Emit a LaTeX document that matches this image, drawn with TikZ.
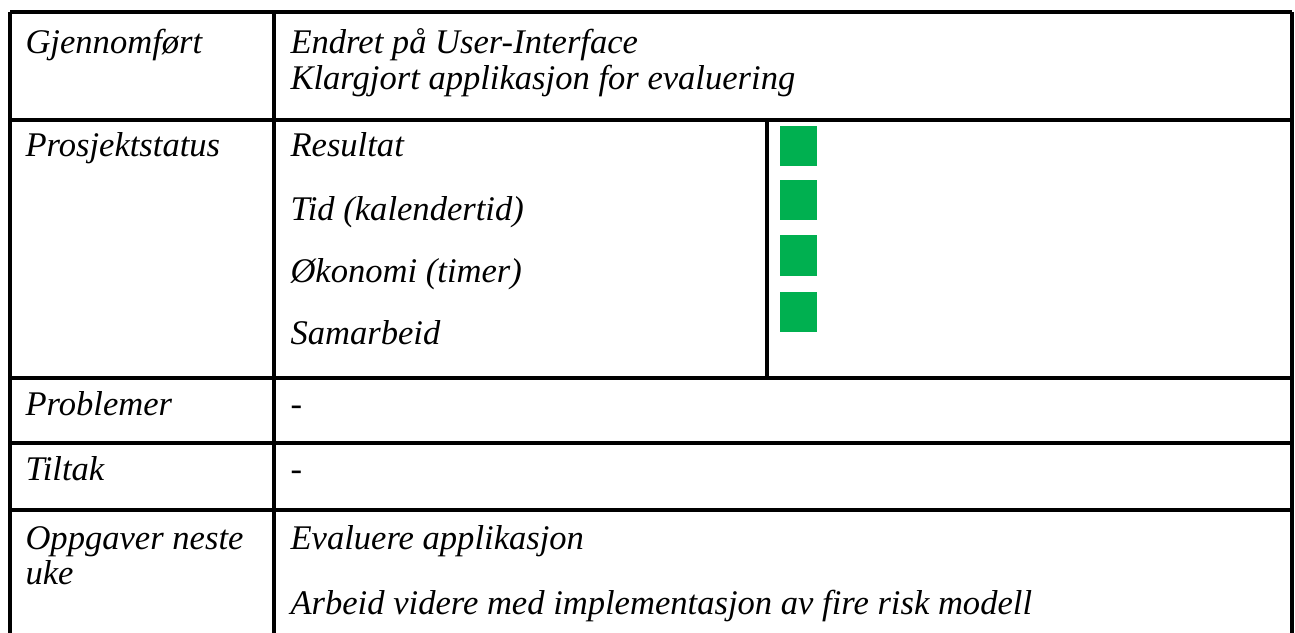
\documentclass[tikz,border=0pt]{standalone}
\usepackage{fontspec}
\setmainfont{Liberation Serif}
\begin{document}
\begin{tikzpicture}[x=0.376pt, y=-0.376pt,
    celltext/.style={anchor=base west, inner sep=0pt, font=\itshape\fontsize{13pt}{15pt}\selectfont},
    gridline/.style={draw=black, line width=1.2pt},
    statusbox/.style={fill=statusgreen}]
    % Define the colors
    \definecolor{statusgreen}{RGB}{0, 176, 80}

    \useasboundingbox (0,0) rectangle (1295,633);

    % Draw the table lines
    \draw[gridline] (10,12) -- (1292,12);
    \draw[gridline] (10,120) -- (1292,120);
    \draw[gridline] (10,378) -- (1292,378);
    \draw[gridline] (10,443) -- (1292,443);
    \draw[gridline] (10,510) -- (1292,510);
    \draw[gridline] (10,12) -- (10,633);
    \draw[gridline] (274,12) -- (274,633);
    \draw[gridline] (767,120) -- (767,378);
    \draw[gridline] (1292,12) -- (1292,633);

    % Gjennomført
    \node[celltext] (done) at (25,54) {Gjennomført};
    \node[celltext] (done1) at (290,54) {Endret på User-Interface};
    \node[celltext] (done2) at (290,90) {Klargjort applikasjon for evaluering};

    % Prosjektstatus
    \node[celltext] (status) at (25,157) {Prosjektstatus};
    \node[celltext] (result) at (290,157) {Resultat};
    \node[celltext] (time) at (290,221) {Tid (kalendertid)};
    \node[celltext] (economy) at (290,283) {Økonomi (timer)};
    \node[celltext] (collab) at (290,345) {Samarbeid};
    \fill[statusbox] (780,126) rectangle (817,166);
    \fill[statusbox] (780,180) rectangle (817,220);
    \fill[statusbox] (780,235) rectangle (817,276);
    \fill[statusbox] (780,292) rectangle (817,332);

    % Problemer and Tiltak
    \node[celltext] (problems) at (25,416) {Problemer};
    \node[celltext] (problems1) at (290,416) {-};
    \node[celltext] (actions) at (25,481) {Tiltak};
    \node[celltext] (actions1) at (290,481) {-};

    % Oppgaver neste uke
    \node[celltext] (next) at (25,550) {Oppgaver neste};
    \node[celltext] (next2) at (25,585) {uke};
    \node[celltext] (next1) at (290,550) {Evaluere applikasjon};
    \node[celltext] (next3) at (290,614) {Arbeid videre med implementasjon av fire risk modell};
\end{tikzpicture}
\end{document}
